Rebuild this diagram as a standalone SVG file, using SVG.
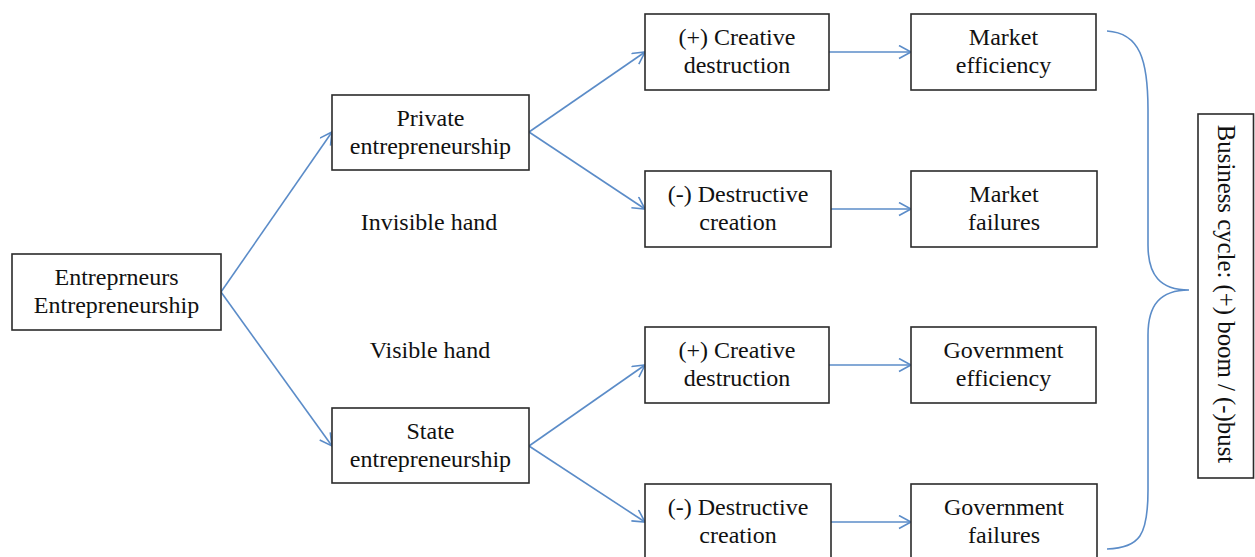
<svg xmlns="http://www.w3.org/2000/svg" width="1255" height="557" viewBox="0 0 1255 557">
<defs>
<style>
.box{fill:#fff;stroke:#2b2b2b;stroke-width:1.6}
.t{font-family:"Liberation Serif","Times New Roman",serif;font-size:24px;fill:#111;text-anchor:middle}
.c{fill:none;stroke:#5b8cc8;stroke-width:1.6}
</style>
<marker id="ah" markerUnits="userSpaceOnUse" markerWidth="16" markerHeight="16" refX="13" refY="7" orient="auto">
<path d="M1,0.5 L13,7 L1,13.5" fill="none" stroke="#5b8cc8" stroke-width="1.6"/>
</marker>
</defs>
<rect width="1255" height="557" fill="#fff"/>
<g id="connectors">
<line class="c" x1="221" y1="292" x2="332" y2="132" marker-end="url(#ah)"/>
<line class="c" x1="221" y1="292" x2="332" y2="446" marker-end="url(#ah)"/>
<line class="c" x1="529" y1="132" x2="645" y2="52" marker-end="url(#ah)"/>
<line class="c" x1="529" y1="132" x2="645" y2="209" marker-end="url(#ah)"/>
<line class="c" x1="529" y1="446" x2="645" y2="365" marker-end="url(#ah)"/>
<line class="c" x1="529" y1="446" x2="645" y2="522" marker-end="url(#ah)"/>
<line class="c" x1="829" y1="52" x2="911" y2="52" marker-end="url(#ah)"/>
<line class="c" x1="831" y1="209" x2="911" y2="209" marker-end="url(#ah)"/>
<line class="c" x1="829" y1="365" x2="911" y2="365" marker-end="url(#ah)"/>
<line class="c" x1="831" y1="522" x2="911" y2="522" marker-end="url(#ah)"/>
<path id="brace" class="c" d="M1107,31 C1140,33 1148,60 1148,110 L1148,245 C1148,275 1160,290 1189,290 C1160,290 1148,305 1148,335 L1148,490 C1148,535 1140,548 1107,549"/>
</g>
<g id="entrepreneurs"><rect class="box" x="12" y="254" width="209" height="76"/><text class="t" x="116.5" y="285">Entreprneurs</text><text class="t" x="116.5" y="313">Entrepreneurship</text></g>
<g id="private"><rect class="box" x="332" y="95" width="197" height="75"/><text class="t" x="430.5" y="126">Private</text><text class="t" x="430.5" y="154">entrepreneurship</text></g>
<g id="state"><rect class="box" x="332" y="408" width="197" height="75"/><text class="t" x="430.5" y="439">State</text><text class="t" x="430.5" y="467">entrepreneurship</text></g>
<g id="invisible-hand"><text class="t" x="429" y="230">Invisible hand</text></g>
<g id="visible-hand"><text class="t" x="430" y="358">Visible hand</text></g>
<g id="creative1"><rect class="box" x="645" y="14" width="184" height="76"/><text class="t" x="737" y="45">(+) Creative</text><text class="t" x="737" y="73">destruction</text></g>
<g id="destructive1"><rect class="box" x="645" y="171" width="186" height="76"/><text class="t" x="738" y="202">(-) Destructive</text><text class="t" x="738" y="230">creation</text></g>
<g id="creative2"><rect class="box" x="645" y="327" width="184" height="76"/><text class="t" x="737" y="358">(+) Creative</text><text class="t" x="737" y="386">destruction</text></g>
<g id="destructive2"><rect class="box" x="645" y="484" width="186" height="80"/><text class="t" x="738" y="515">(-) Destructive</text><text class="t" x="738" y="543">creation</text></g>
<g id="market-efficiency"><rect class="box" x="911" y="14" width="185" height="76"/><text class="t" x="1003.5" y="45">Market</text><text class="t" x="1003.5" y="73">efficiency</text></g>
<g id="market-failures"><rect class="box" x="911" y="171" width="186" height="76"/><text class="t" x="1004" y="202">Market</text><text class="t" x="1004" y="230">failures</text></g>
<g id="government-efficiency"><rect class="box" x="911" y="327" width="185" height="76"/><text class="t" x="1003.5" y="358">Government</text><text class="t" x="1003.5" y="386">efficiency</text></g>
<g id="government-failures"><rect class="box" x="911" y="484" width="186" height="80"/><text class="t" x="1004" y="515">Government</text><text class="t" x="1004" y="543">failures</text></g>
<g id="business-cycle"><rect class="box" x="1198" y="114" width="55.5" height="364"/><text class="t" style="font-size:24.8px" transform="translate(1218,294) rotate(90)" x="0" y="0">Business cycle: (+) boom / (-)bust</text></g>
</svg>
